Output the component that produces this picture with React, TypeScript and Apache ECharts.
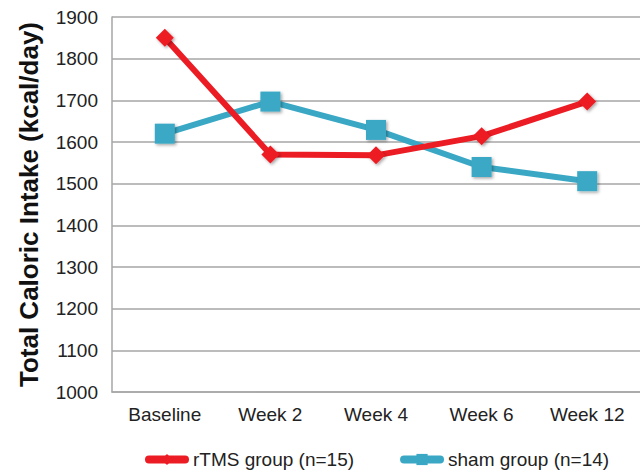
import React, { useEffect, useRef } from "react";
import * as echarts from "echarts";

const categories = ["Baseline", "Week 2", "Week 4", "Week 6", "Week 12"];
const rtmsValues = [1850, 1570, 1568, 1614, 1697];
const shamValues = [1620, 1697, 1629, 1540, 1506];
const rtmsName = "rTMS group (n=15)";
const shamName = "sham group (n=14)";
const yAxisName = "Total Caloric Intake (kcal/day)";

const RED = "#ec1c24";
const BLUE = "#3aa8c5";
const FONT = "'Liberation Sans', Arial, sans-serif";

export default function App() {
  const ref = useRef<HTMLDivElement>(null);

  useEffect(() => {
    if (!ref.current) return;
    const chart = echarts.init(ref.current, undefined, { renderer: "svg" });
    const markerShadow = {
      shadowBlur: 3,
      shadowOffsetX: 1.5,
      shadowOffsetY: 1.5,
      shadowColor: "rgba(0,0,0,0.35)",
    };
    chart.setOption({
      animation: false,
      backgroundColor: "#fff",
      textStyle: { fontFamily: FONT },
      grid: { left: 112, right: 0, top: 17, bottom: 83, containLabel: false },
      legend: {
        bottom: 1,
        left: 140,
        itemWidth: 36,
        itemHeight: 14,
        itemGap: 46,
        lineStyle: { width: 8, cap: "round" },
        textStyle: {
          fontSize: 19,
          color: "#222",
          fontFamily: FONT,
          padding: [0, 0, 0, 3],
        },
        data: [rtmsName, shamName],
      },
      xAxis: {
        type: "category",
        data: categories,
        boundaryGap: true,
        axisLine: { lineStyle: { color: "#a6a6a6", width: 1.5 } },
        axisTick: { show: false },
        axisLabel: { fontSize: 19, color: "#222", margin: 13, fontFamily: FONT },
      },
      yAxis: {
        type: "value",
        min: 1000,
        max: 1900,
        interval: 100,
        name: yAxisName,
        nameLocation: "middle",
        nameGap: 70,
        nameTextStyle: { fontSize: 26, fontWeight: "bold", color: "#111", fontFamily: FONT },
        axisLine: { show: true, lineStyle: { color: "#a6a6a6", width: 1.5 } },
        axisTick: { show: false },
        axisLabel: {
          fontSize: 19,
          color: "#222",
          margin: 14,
          fontFamily: FONT,
          formatter: (v: number) => String(v),
        },
        splitLine: { lineStyle: { color: "#a6a6a6", width: 1.5 } },
      },
      series: [
        {
          name: rtmsName,
          type: "line",
          data: rtmsValues,
          symbol: "diamond",
          symbolSize: 18,
          lineStyle: { color: RED, width: 6 },
          itemStyle: { color: RED, ...markerShadow },
          z: 3,
        },
        {
          name: shamName,
          type: "line",
          data: shamValues,
          symbol: "rect",
          symbolSize: 20,
          lineStyle: { color: BLUE, width: 6 },
          itemStyle: { color: BLUE, ...markerShadow },
          z: 2,
        },
      ],
    });
    return () => chart.dispose();
  }, []);

  return (
    <div
      ref={ref}
      style={{ position: "fixed", left: 0, top: 0, width: 640, height: 475 }}
    />
  );
}
